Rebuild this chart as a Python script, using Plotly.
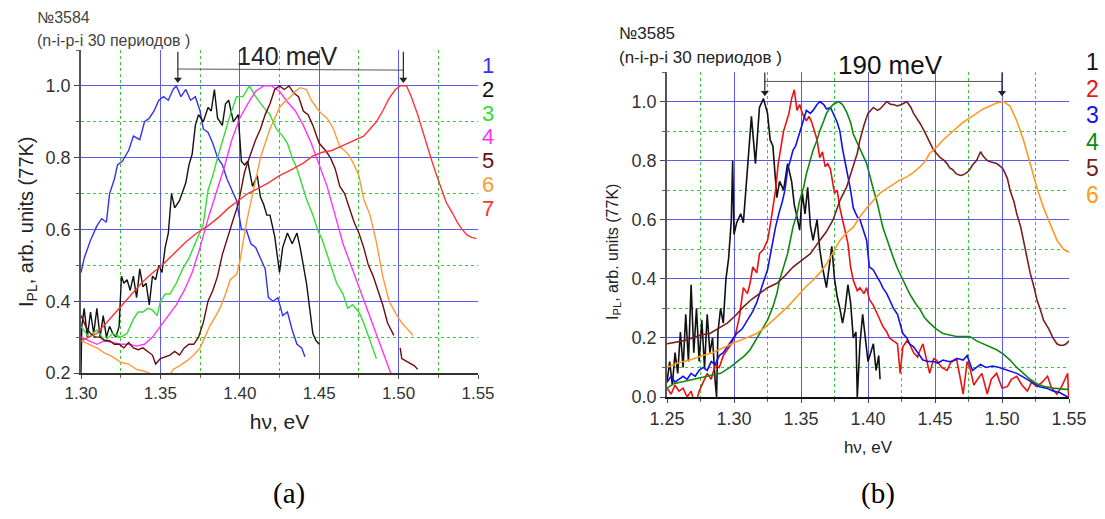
import plotly.graph_objects as go

W, H = 1105, 519

# ---------------- data: panel (a), sample 3584 ----------------
a_labels = ["1", "2", "3", "4", "5", "6", "7"]
a_colors = ["#3333ee", "#111111", "#33dd33", "#ff33ff", "#6b0d0d", "#ff9933", "#ff3333"]

a1 = [(1.300,0.48),(1.302,0.52),(1.306,0.57),(1.310,0.61),(1.313,0.63),(1.316,0.62),(1.318,0.70),(1.321,0.74),(1.323,0.78),(1.326,0.79),
      (1.330,0.82),(1.333,0.86),(1.337,0.85),(1.340,0.90),(1.343,0.91),(1.346,0.93),(1.349,0.96),(1.352,0.97),(1.355,0.96),(1.358,0.99),
      (1.360,1.00),(1.363,0.97),(1.366,0.99),(1.369,0.96),(1.372,0.97),(1.375,0.93),(1.377,0.88),(1.380,0.87),(1.383,0.84),(1.386,0.80),
      (1.389,0.78),(1.392,0.74),(1.395,0.71),(1.398,0.68),(1.401,0.60),(1.404,0.60),(1.407,0.56),(1.410,0.55),(1.413,0.52),(1.416,0.49),
      (1.418,0.41),(1.421,0.40),(1.424,0.41),(1.427,0.36),(1.430,0.37),(1.433,0.32),(1.436,0.28),(1.439,0.27),(1.441,0.245)]

a2_x = [1.300,1.3005,1.302,1.304,1.306,1.308,1.310,1.312,1.314,1.316,1.318,1.320,1.322,1.324,1.3255,1.327,1.329,1.331,1.333,1.335,
        1.337,1.339,1.341,1.343,1.345,1.347,1.349,1.351,1.353,1.355,1.357,1.359,1.362,1.366,1.368,1.370,1.372,1.374,1.377,1.380,
        1.382,1.384,1.386,1.389,1.391,1.393,1.396,1.399,1.401,1.403,1.405,1.408,1.411,1.413,1.415,1.417,1.419,1.422,1.425,1.427,
        1.430,1.433,1.436,1.438,1.440,1.442,1.444,1.446,1.448,1.450]
a2_y = [0.20,0.33,0.38,0.30,0.37,0.31,0.38,0.30,0.36,0.30,0.33,0.31,0.30,0.33,0.47,0.45,0.46,0.43,0.47,0.41,
        0.49,0.44,0.45,0.39,0.47,0.46,0.50,0.48,0.55,0.59,0.70,0.66,0.68,0.73,0.78,0.81,0.89,0.92,0.90,0.94,
        0.93,0.99,0.91,0.89,0.95,0.96,0.90,0.92,0.79,0.78,0.79,0.72,0.75,0.69,0.67,0.64,0.64,0.58,0.48,0.55,
        0.59,0.56,0.59,0.55,0.50,0.45,0.38,0.31,0.29,0.28]

a3_x = [1.300,1.305,1.310,1.315,1.320,1.325,1.329,1.333,1.336,1.339,1.342,1.345,1.348,1.350,1.353,1.356,1.360,1.364,1.368,1.373,
        1.377,1.380,1.383,1.386,1.390,1.394,1.398,1.402,1.406,1.410,1.415,1.419,1.423,1.427,1.430,1.433,1.436,1.439,1.442,1.446,
        1.449,1.452,1.455,1.458,1.461,1.465,1.468,1.471,1.475,1.478,1.482,1.486]
a3_y = [0.33,0.30,0.32,0.29,0.31,0.30,0.31,0.35,0.37,0.37,0.38,0.375,0.36,0.40,0.42,0.42,0.45,0.49,0.52,0.57,
        0.615,0.71,0.75,0.80,0.86,0.92,0.97,0.97,1.00,0.97,0.94,0.92,0.88,0.86,0.84,0.80,0.77,0.73,0.685,0.64,
        0.60,0.57,0.53,0.49,0.45,0.42,0.38,0.39,0.37,0.34,0.29,0.24]

a4_x = [1.300,1.305,1.310,1.315,1.320,1.325,1.330,1.335,1.340,1.345,1.350,1.355,1.360,1.365,1.370,1.375,1.380,1.385,1.390,1.395,
        1.400,1.405,1.410,1.415,1.420,1.425,1.430,1.435,1.440,1.445,1.450,1.455,1.460,1.465,1.470,1.475,1.480,1.485,1.490,1.495]
a4_y = [0.30,0.29,0.28,0.29,0.285,0.28,0.28,0.275,0.28,0.30,0.33,0.36,0.39,0.43,0.48,0.55,0.63,0.70,0.77,0.85,
        0.91,0.95,0.985,1.00,1.00,0.985,0.955,0.93,0.89,0.84,0.78,0.72,0.64,0.56,0.50,0.44,0.38,0.32,0.255,0.20]

a5_x = [1.300,1.303,1.306,1.309,1.312,1.315,1.318,1.321,1.324,1.327,1.330,1.333,1.336,1.339,1.342,1.345,1.347,1.350,1.353,1.356,
        1.359,1.362,1.365,1.368,1.371,1.374,1.377,1.380,1.383,1.386,1.389,1.393,1.396,1.399,1.403,1.406,1.410,1.413,1.416,1.419,
        1.422,1.425,1.428,1.431,1.434,1.437,1.440,1.443,1.446,1.450,1.454,1.457,1.460,1.463,1.466,1.469,1.472,1.475,1.478,1.481,
        1.484,1.487,1.490,1.493,1.497,None,1.501,1.502,1.504,1.506,1.508,1.510,1.512]
a5_y = [0.36,0.33,0.31,0.30,0.30,0.29,0.29,0.28,0.28,0.27,0.285,0.27,0.265,0.27,0.26,0.25,0.225,0.24,0.245,0.25,
        0.26,0.25,0.27,0.28,0.28,0.30,0.34,0.40,0.43,0.47,0.53,0.59,0.63,0.67,0.76,0.80,0.85,0.88,0.92,0.95,
        0.99,1.00,0.99,1.00,0.98,0.97,0.93,0.92,0.89,0.84,0.82,0.80,0.77,0.72,0.70,0.66,0.62,0.59,0.55,0.50,
        0.47,0.43,0.39,0.34,0.305,None,0.27,0.24,0.235,0.23,0.225,0.22,0.21]

a6_x = [1.300,1.305,1.310,1.315,1.320,1.325,1.330,1.335,1.340,1.345,1.350,1.354,1.358,1.362,1.367,1.371,1.375,1.378,1.381,1.385,
        1.388,1.391,1.394,1.398,1.400,1.404,1.408,1.413,1.416,1.419,1.422,1.425,1.428,1.432,1.435,1.438,1.442,1.445,1.449,1.452,
        1.455,1.459,1.463,1.466,1.469,1.472,1.475,1.478,1.482,1.486,1.490,1.494,1.499,1.502,1.505,1.509]
a6_y = [0.29,0.28,0.27,0.255,0.245,0.23,0.225,0.21,0.205,0.195,0.19,0.18,0.21,0.22,0.235,0.25,0.27,0.30,0.33,0.36,
        0.385,0.42,0.46,0.475,0.51,0.615,0.70,0.80,0.84,0.88,0.91,0.94,0.955,0.97,0.985,0.995,0.99,0.96,0.935,0.92,
        0.91,0.88,0.83,0.82,0.805,0.78,0.75,0.685,0.64,0.565,0.47,0.40,0.36,0.34,0.325,0.305]

a7_x = [1.300,1.305,1.310,1.318,1.326,1.332,1.338,1.344,1.351,1.358,1.366,1.373,1.380,1.387,1.393,1.399,1.405,1.412,1.418,1.425,
        1.432,1.440,1.446,1.452,1.458,1.463,1.468,1.473,1.478,1.482,1.486,1.490,1.494,1.498,1.501,1.505,1.508,1.512,1.515,1.518,
        1.521,1.524,1.527,1.530,1.534,1.537,1.540,1.543,1.546,1.549]
a7_y = [0.29,0.30,0.31,0.35,0.39,0.42,0.45,0.475,0.50,0.53,0.565,0.59,0.61,0.635,0.66,0.68,0.70,0.715,0.73,0.75,
        0.765,0.785,0.805,0.815,0.82,0.83,0.84,0.85,0.86,0.88,0.90,0.93,0.965,0.99,1.00,1.00,0.97,0.92,0.875,0.83,
        0.79,0.75,0.71,0.675,0.645,0.62,0.60,0.585,0.578,0.575]

# ---------------- data: panel (b), sample 3585 ----------------
b_labels = ["1", "2", "3", "4", "5", "6"]
b_colors = ["#111111", "#ee1111", "#1111ee", "#118811", "#7a1f1f", "#ff9922"]

b1_x = [1.250,1.252,1.254,1.256,1.258,1.260,1.262,1.264,1.266,1.268,1.270,1.272,1.274,1.276,1.278,1.280,1.282,1.284,1.286,1.287,
        1.288,1.290,1.292,1.294,1.296,1.298,1.299,1.300,1.302,1.305,1.307,1.310,1.313,1.316,1.319,1.322,1.325,1.327,1.329,1.332,
        1.334,1.337,1.340,1.343,1.345,1.347,1.349,1.351,1.353,1.355,1.357,1.359,1.362,1.364,1.366,1.369,1.371,1.373,1.375,1.377,
        1.379,1.381,1.383,1.385,1.387,1.389,1.391,1.392,1.394,1.396,1.398,1.400,1.402,1.404,1.406,1.408,1.409]
b1_y = [0.05,0.12,0.04,0.15,0.08,0.22,0.10,0.28,0.12,0.38,0.15,0.30,0.12,0.26,0.10,0.28,0.15,0.20,0.05,0.0,
        0.22,0.30,0.25,0.40,0.47,0.60,0.80,0.55,0.59,0.62,0.59,0.77,0.95,0.79,0.98,1.01,0.96,0.87,0.85,0.675,
        0.73,0.70,0.79,0.73,0.65,0.61,0.565,0.69,0.62,0.71,0.58,0.53,0.60,0.50,0.44,0.37,0.45,0.51,0.40,0.34,
        0.30,0.25,0.30,0.38,0.32,0.20,0.22,0.0,0.18,0.28,0.20,0.12,0.15,0.18,0.09,0.14,0.06]

b2_x = [1.250,1.253,1.256,1.259,1.262,1.265,1.268,1.271,1.274,1.277,1.280,1.283,1.286,1.289,1.292,1.295,1.298,1.301,1.304,1.307,
        1.310,1.312,1.314,1.317,1.319,1.322,1.325,1.327,1.329,1.331,1.333,1.335,1.337,1.339,1.341,1.343,1.345,1.347,1.349,1.351,
        1.354,1.356,1.358,1.360,1.362,1.364,1.366,1.368,1.370,1.372,1.375,1.377,1.379,1.381,1.383,1.385,1.387,1.389,1.392,1.394,
        1.397,1.399,1.401,1.404,1.407,1.409,1.411,1.414,1.416,1.419,1.422,1.424,1.426,1.429,1.431,1.434,1.437,1.439,1.441,1.444,
        1.446,1.449,1.451,1.455,1.459,1.462,1.466,1.469,1.471,1.474,1.476,1.479,1.481,1.485,1.489,1.492,1.496,1.500,1.504,1.507,
        1.511,1.515,1.519,1.522,1.526,1.530,1.534,1.537,1.541,1.545,1.549,1.550]
b2_y = [0.03,0.01,0.04,0.02,0.03,0.00,0.02,-0.03,0.02,0.05,0.08,0.06,0.11,0.10,0.14,0.16,0.18,0.21,0.27,0.37,
        0.35,0.385,0.44,0.42,0.485,0.50,0.53,0.58,0.64,0.70,0.79,0.85,0.90,0.93,0.96,1.01,1.04,0.97,0.99,0.96,
        0.935,0.95,0.93,0.90,0.87,0.81,0.83,0.78,0.79,0.77,0.69,0.70,0.64,0.60,0.565,0.52,0.44,0.395,0.36,0.37,
        0.35,0.37,0.33,0.31,0.28,0.26,0.24,0.22,0.20,0.19,0.18,0.08,0.17,0.19,0.18,0.15,0.135,0.16,0.18,0.12,
        0.08,0.13,0.125,0.10,0.09,0.12,0.13,0.06,0.01,0.12,0.10,0.04,0.055,0.08,0.01,0.06,0.08,0.03,0.035,0.06,
        0.07,0.04,0.02,0.05,0.035,0.05,0.07,0.03,0.01,0.04,0.08,-0.03]

b3 = [(1.250,0.05),(1.253,0.07),(1.256,0.05),(1.259,0.06),(1.262,0.07),(1.265,0.06),(1.268,0.08),(1.271,0.07),(1.274,0.09),(1.277,0.10),
      (1.280,0.09),(1.283,0.12),(1.286,0.11),(1.289,0.14),(1.292,0.15),(1.295,0.17),(1.298,0.19),(1.302,0.215),(1.306,0.23),(1.310,0.26),
      (1.314,0.29),(1.317,0.32),(1.319,0.35),(1.322,0.39),(1.325,0.43),(1.328,0.51),(1.331,0.575),(1.334,0.63),(1.336,0.66),(1.338,0.70),
      (1.340,0.77),(1.342,0.80),(1.344,0.835),(1.346,0.85),(1.348,0.88),(1.351,0.925),(1.354,0.97),(1.357,0.96),(1.359,0.97),(1.362,0.99),
      (1.364,1.0),(1.367,0.99),(1.369,0.975),(1.372,0.98),(1.374,0.96),(1.377,0.93),(1.379,0.90),(1.381,0.84),(1.384,0.77),(1.387,0.70),
      (1.389,0.64),(1.392,0.61),(1.394,0.60),(1.397,0.56),(1.399,0.53),(1.401,0.44),(1.404,0.43),(1.407,0.405),(1.409,0.39),(1.411,0.37),
      (1.414,0.35),(1.416,0.33),(1.419,0.30),(1.422,0.28),(1.424,0.25),(1.426,0.215),(1.429,0.20),(1.431,0.18),(1.434,0.17),(1.437,0.15),
      (1.439,0.14),(1.441,0.125),(1.445,0.12),(1.449,0.12),(1.452,0.115),(1.456,0.125),(1.460,0.12),(1.463,0.12),(1.467,0.13),(1.471,0.125),
      (1.474,0.14),(1.478,0.09),(1.481,0.10),(1.484,0.11),(1.488,0.10),(1.493,0.105),(1.498,0.10),(1.504,0.09),(1.508,0.085),(1.511,0.08),
      (1.515,0.07),(1.519,0.06),(1.523,0.05),(1.528,0.035),(1.533,0.03),(1.538,0.02),(1.543,0.015),(1.549,0.0)]

b4 = [(1.250,0.03),(1.255,0.045),(1.260,0.05),(1.265,0.055),(1.270,0.06),(1.275,0.065),(1.280,0.07),(1.285,0.075),(1.290,0.08),(1.297,0.10),
      (1.304,0.125),(1.308,0.14),(1.312,0.16),(1.316,0.19),(1.319,0.215),(1.322,0.235),(1.325,0.26),(1.329,0.305),(1.332,0.35),(1.334,0.395),
      (1.337,0.44),(1.340,0.485),(1.344,0.575),(1.347,0.62),(1.349,0.665),(1.352,0.71),(1.354,0.755),(1.357,0.80),(1.359,0.835),(1.362,0.87),
      (1.364,0.90),(1.367,0.935),(1.369,0.96),(1.372,0.98),(1.374,0.99),(1.378,1.0),(1.381,0.99),(1.384,0.965),(1.387,0.93),(1.389,0.89),
      (1.392,0.86),(1.394,0.835),(1.397,0.81),(1.399,0.79),(1.403,0.72),(1.407,0.655),(1.411,0.575),(1.415,0.52),(1.419,0.47),(1.422,0.435),
      (1.425,0.405),(1.428,0.375),(1.431,0.35),(1.435,0.32),(1.439,0.295),(1.442,0.27),(1.446,0.25),(1.451,0.23),(1.456,0.215),(1.461,0.21),
      (1.466,0.205),(1.471,0.205),(1.476,0.205),(1.481,0.19),(1.486,0.18),(1.491,0.17),(1.496,0.16),(1.501,0.145),(1.506,0.125),(1.511,0.10),
      (1.516,0.08),(1.521,0.06),(1.526,0.045),(1.532,0.035),(1.538,0.03),(1.544,0.028),(1.550,0.025)]

b5 = [(1.250,0.18),(1.256,0.185),(1.262,0.19),(1.269,0.20),(1.275,0.21),(1.282,0.215),(1.288,0.23),(1.295,0.25),(1.301,0.275),(1.307,0.305),
      (1.313,0.33),(1.319,0.35),(1.325,0.37),(1.332,0.385),(1.338,0.41),(1.344,0.44),(1.350,0.46),(1.357,0.485),(1.364,0.53),(1.369,0.56),
      (1.374,0.60),(1.379,0.665),(1.384,0.71),(1.387,0.755),(1.390,0.80),(1.392,0.825),(1.394,0.87),(1.397,0.92),(1.400,0.96),(1.404,0.98),
      (1.407,0.97),(1.409,0.975),(1.412,0.99),(1.414,1.0),(1.417,0.99),(1.419,0.99),(1.422,0.985),(1.425,0.99),(1.429,1.0),(1.432,0.98),
      (1.434,0.96),(1.437,0.94),(1.439,0.925),(1.442,0.90),(1.444,0.88),(1.447,0.855),(1.449,0.835),(1.452,0.82),(1.454,0.81),(1.457,0.80),
      (1.459,0.79),(1.461,0.775),(1.463,0.77),(1.466,0.755),(1.469,0.75),(1.471,0.752),(1.474,0.76),(1.476,0.77),(1.478,0.785),(1.481,0.80),
      (1.484,0.83),(1.486,0.815),(1.489,0.80),(1.492,0.795),(1.496,0.79),(1.499,0.78),(1.501,0.77),(1.504,0.74),(1.506,0.70),(1.509,0.66),
      (1.511,0.62),(1.514,0.575),(1.516,0.53),(1.519,0.47),(1.521,0.42),(1.524,0.37),(1.526,0.33),(1.529,0.29),(1.531,0.26),(1.535,0.23),
      (1.538,0.20),(1.541,0.18),(1.543,0.175),(1.546,0.175),(1.548,0.18),(1.550,0.19)]

b6 = [(1.250,0.10),(1.258,0.115),(1.267,0.125),(1.276,0.14),(1.284,0.15),(1.293,0.17),(1.301,0.185),(1.309,0.20),(1.317,0.215),(1.323,0.235),
      (1.329,0.26),(1.335,0.285),(1.340,0.305),(1.345,0.33),(1.349,0.35),(1.354,0.375),(1.359,0.395),(1.364,0.42),(1.369,0.45),(1.374,0.49),
      (1.379,0.53),(1.384,0.555),(1.389,0.575),(1.394,0.61),(1.399,0.64),(1.404,0.665),(1.409,0.69),(1.414,0.705),(1.419,0.72),(1.424,0.735),
      (1.429,0.745),(1.434,0.76),(1.439,0.78),(1.443,0.80),(1.446,0.825),(1.451,0.845),(1.456,0.87),(1.461,0.89),(1.466,0.91),(1.471,0.93),
      (1.476,0.945),(1.481,0.96),(1.486,0.975),(1.491,0.985),(1.496,0.995),(1.501,1.0),(1.506,0.985),(1.511,0.935),(1.516,0.87),(1.521,0.79),
      (1.526,0.71),(1.531,0.64),(1.536,0.585),(1.541,0.53),(1.546,0.50),(1.550,0.49)]

# peak markers (energies of the bracketed peaks) and texts
a_peaks = [1.361, 1.503]
b_peaks = [1.323, 1.500]
a_split = "140 meV"
b_split = "190 meV"
a_title = ["№3584", "(n-i-p-i 30 периодов )"]
b_title = ["№3585", "(n-i-p-i 30 периодов )"]
x_title = "hν, eV"
y_title = "I<sub>PL</sub>, arb. units (77K)"

# ---------------- figure ----------------
def px(x):
    return x / W

def py(y):
    return 1 - y / H

def unzip(pairs):
    return [p[0] for p in pairs], [p[1] for p in pairs]

fig = go.Figure()

a_series = [unzip(a1), (a2_x, a2_y), (a3_x, a3_y), (a4_x, a4_y), (a5_x, a5_y), (a6_x, a6_y), (a7_x, a7_y)]
for (xs, ys), name, col in zip(a_series, a_labels, a_colors):
    fig.add_trace(go.Scatter(x=xs, y=ys, mode="lines", name=name, showlegend=False,
                             line=dict(color=col, width=1.4), xaxis="x", yaxis="y"))

b_series = [(b1_x, b1_y), (b2_x, b2_y), unzip(b3), unzip(b4), unzip(b5), unzip(b6)]
for (xs, ys), name, col in zip(b_series, b_labels, b_colors):
    fig.add_trace(go.Scatter(x=xs, y=ys, mode="lines", name=name, showlegend=False,
                             line=dict(color=col, width=1.6), xaxis="x2", yaxis="y2"))

# arrow heads marking the two bracketed peaks
fig.add_trace(go.Scatter(x=a_peaks, y=[1.018, 1.018], mode="markers", showlegend=False, hoverinfo="skip",
                         marker=dict(symbol="triangle-down", size=7, color="#222"), xaxis="x", yaxis="y"))
fig.add_trace(go.Scatter(x=b_peaks, y=[1.03, 1.03], mode="markers", showlegend=False, hoverinfo="skip",
                         marker=dict(symbol="triangle-down", size=7, color="#222"), xaxis="x2", yaxis="y2"))

FONT = "Liberation Sans, Arial, sans-serif"
MAJ = "#5a5aee"
MIN = "#33cc33"

def xax(dom, r, tfs, linecol, lw, anchor, tsize, tstand):
    return dict(domain=dom, range=r, dtick=0.05, tick0=1.25, tickformat=".2f", anchor=anchor,
                automargin=False,
                title=dict(text=x_title, standoff=tstand, font=dict(family=FONT, size=tsize, color="#222")),
                showgrid=True, gridcolor=MAJ, gridwidth=1, zeroline=False,
                showline=True, linecolor=linecol, linewidth=lw,
                ticks="outside", ticklen=4, tickcolor="#444",
                tickfont=dict(family=FONT, size=tfs, color="#333"),
                minor=dict(dtick=0.025, showgrid=True, gridcolor=MIN, griddash="dot",
                           gridwidth=1, ticks="outside", ticklen=3, tickcolor="#666"))

def yax(dom, r, tfs, anchor):
    return dict(domain=dom, range=r, dtick=0.2, tick0=0, tickformat=".1f",
                automargin=False,
                showgrid=True, gridcolor=MAJ, gridwidth=1, zeroline=False,
                showline=True, linecolor="#555", linewidth=1.5, anchor=anchor,
                ticks="outside", ticklen=5, tickcolor="#444",
                tickfont=dict(family=FONT, size=tfs, color="#333"),
                minor=dict(dtick=0.1, showgrid=True, gridcolor=MIN, griddash="dot",
                           gridwidth=1, ticks="outside", ticklen=3, tickcolor="#666"))

fig.update_layout(
    width=W, height=H, margin=dict(l=0, r=0, t=0, b=0, autoexpand=False),
    paper_bgcolor="white", plot_bgcolor="white", showlegend=False,
    xaxis=xax([px(81), px(478)], [1.30, 1.55], 17, "#333", 1.5, "y", 21, 12),
    yaxis=yax([py(373), py(50)], [0.2, 1.1], 18, "x"),
    xaxis2=xax([px(667), px(1069)], [1.25, 1.55], 18, "#111", 2, "y2", 17, 14),
    yaxis2=yax([py(397), py(72)], [0.0, 1.1], 18, "x2"),
)

ann = []

def note(x, y, text, size, color, xanchor="center", family=FONT, **kw):
    ann.append(dict(x=px(x), y=py(y), xref="paper", yref="paper", text=text, showarrow=False,
                    xanchor=xanchor, yanchor="middle", font=dict(family=family, size=size, color=color), **kw))

# legend numbers (compact boxes so neighbouring numbers do not collide)
for i, (lab, col) in enumerate(zip(a_labels, a_colors)):
    note(488, 65 + i * 23.8, lab, 22, col, height=22, borderpad=0)
for i, (lab, col) in enumerate(zip(b_labels, b_colors)):
    note(1092, 62 + i * 26.4, lab, 23, col, height=25, borderpad=0)

# headers
note(35, 18, a_title[0], 16, "#444", xanchor="left")
note(35, 40, a_title[1], 16, "#444", xanchor="left")
note(617, 33, b_title[0], 17, "#222", xanchor="left")
note(617, 57, b_title[1], 17, "#222", xanchor="left")

# splitting labels
note(287, 56, a_split, 25, "#222")
note(890, 65, b_split, 26, "#111")

# vertical axis titles (placed to match the reference)
note(27, 222, y_title, 20, "#222", textangle=-90)
note(613, 252, y_title, 16, "#222", textangle=-90)

# panel captions
note(289, 493, "(a)", 29, "#000", family="Liberation Serif, Times New Roman, serif")
note(878, 493, "(b)", 29, "#000", family="Liberation Serif, Times New Roman, serif")

fig.update_layout(annotations=ann)

# bracket lines between the peaks and the vertical arrow stems
fig.add_shape(type="line", xref="x", yref="y", x0=a_peaks[0], x1=a_peaks[1], y0=1.047, y1=1.044,
              line=dict(color="#555", width=1))
fig.add_shape(type="line", xref="x2", yref="y2", x0=b_peaks[0], x1=b_peaks[1], y0=1.068, y1=1.068,
              line=dict(color="#555", width=1))
for xp in a_peaks:
    fig.add_shape(type="line", xref="x", yref="y", x0=xp, x1=xp, y0=1.02, y1=1.095,
                  line=dict(color="#222", width=1.2))
for xp in b_peaks:
    fig.add_shape(type="line", xref="x2", yref="y2", x0=xp, x1=xp, y0=1.03, y1=1.098,
                  line=dict(color="#222", width=1.2))

fig.write_html("out.html", config={"displayModeBar": False},
               post_script="document.body.style.margin='0px';")
